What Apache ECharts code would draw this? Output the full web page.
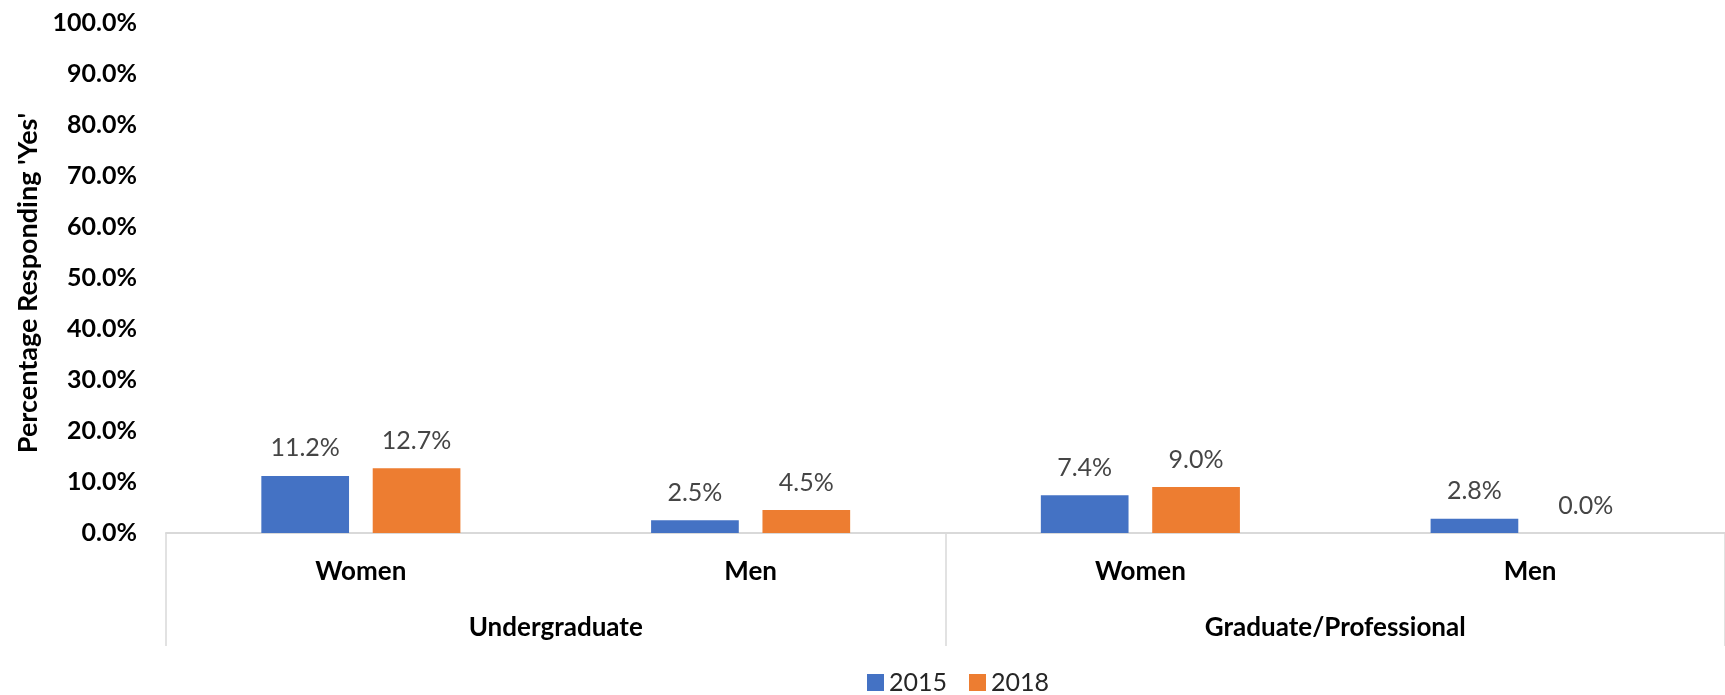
<!DOCTYPE html>
<html>
<head>
<meta charset="utf-8">
<script src="https://cdn.jsdelivr.net/npm/echarts@6/dist/echarts.min.js"></script>
<style>
  html, body { margin: 0; padding: 0; background: #fff; }
  #chart { width: 1725px; height: 695px; }
</style>
</head>
<body>
<div id="chart"></div>
<script>
const categories = ['Women', 'Men', 'Women', 'Men'];
const groups = ['Undergraduate', 'Graduate/Professional'];
const seriesNames = ['2015', '2018'];
const values2015 = [11.2, 2.5, 7.4, 2.8];
const values2018 = [12.7, 4.5, 9.0, 0.0];
const yTicks = { min: 0, max: 100, interval: 10 };
const yTitle = "Percentage Responding 'Yes'";

const chart = echarts.init(document.getElementById('chart'));
const FONT = 'Lato';
const labelStyle = {
  show: true, position: 'top', distance: 15,
  fontFamily: FONT, fontSize: 25, color: '#454545',
  formatter: p => p.value.toFixed(1) + '%'
};
chart.setOption({
  animation: false,
  backgroundColor: '#ffffff',
  grid: { left: 166, top: 23, bottom: 162, width: 1563 },
  legend: {
    data: seriesNames, left: 862, top: 665, icon: 'rect',
    itemWidth: 17, itemHeight: 17, itemGap: 22,
    textStyle: { fontFamily: FONT, fontSize: 25, color: '#262626' }
  },
  graphic: [{
    type: 'text', x: 28, y: 283, rotation: Math.PI / 2,
    style: { text: yTitle, fontFamily: FONT, fontWeight: 'bold', fontSize: 27,
             fill: '#000', align: 'center', verticalAlign: 'middle' }
  }],
  xAxis: [{
    type: 'category', data: categories, position: 'bottom',
    axisLine: { show: true, lineStyle: { color: '#d9d9d9', width: 2 } },
    axisTick: { show: false },
    axisLabel: { margin: 26, fontFamily: FONT, fontWeight: 'bold', fontSize: 26, color: '#000' }
  }, {
    type: 'category', data: groups, position: 'bottom', gridIndex: 0,
    axisLine: { show: false },
    axisTick: { show: true, length: 113, interval: 0, lineStyle: { color: '#d9d9d9', width: 1.5 } },
    axisLabel: { margin: 82, interval: 0, fontFamily: FONT, fontWeight: 'bold', fontSize: 26, color: '#000' }
  }],
  yAxis: {
    type: 'value', min: yTicks.min, max: yTicks.max, interval: yTicks.interval,
    axisLine: { show: false }, axisTick: { show: false }, splitLine: { show: false },
    axisLabel: { margin: 29, fontFamily: FONT, fontWeight: 'bold', fontSize: 25, color: '#000',
                 formatter: v => v.toFixed(1) + '%' }
  },
  series: [{
    name: seriesNames[0], type: 'bar', data: values2015, xAxisIndex: 0,
    barWidth: '22.5%', barGap: '27%',
    itemStyle: { color: '#4472C4' }, label: labelStyle
  }, {
    name: seriesNames[1], type: 'bar', data: values2018, xAxisIndex: 0,
    barWidth: '22.5%', barGap: '27%',
    itemStyle: { color: '#ED7D31' }, label: labelStyle
  }]
});
</script>
</body>
</html>
